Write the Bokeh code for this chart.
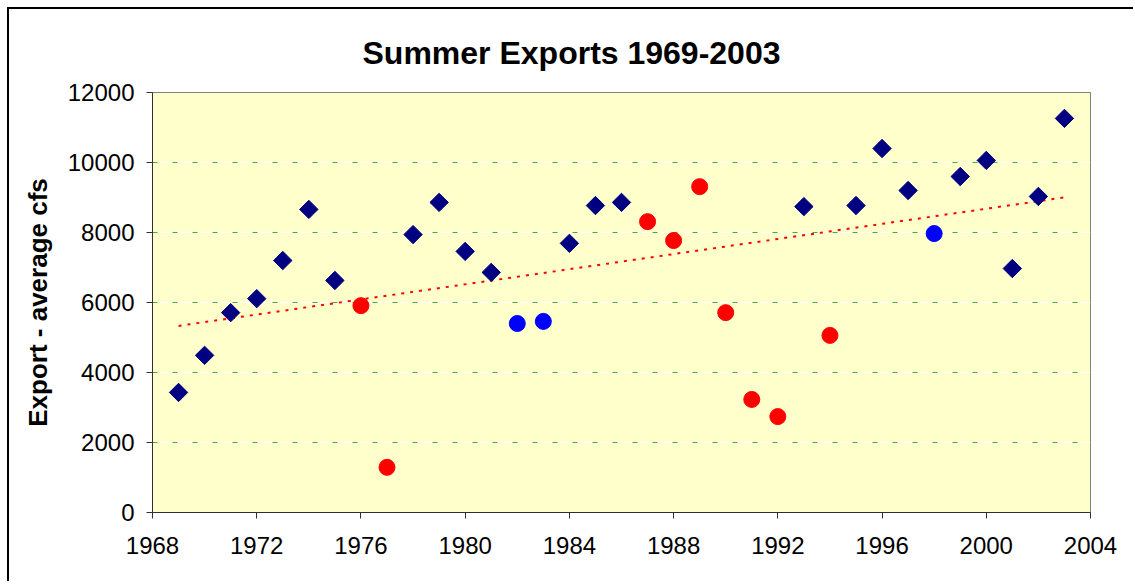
import numpy as np
from bokeh.plotting import figure
from bokeh.models import Range1d, FixedTicker, Grid
from bokeh.embed import file_html
from bokeh.resources import INLINE

# Data
normal_years = [1969, 1970, 1971, 1972, 1973, 1974, 1975, 1978, 1979, 1980, 1981,
                1984, 1985, 1986, 1993, 1995, 1996, 1997, 1999, 2000, 2001, 2002, 2003]
normal_vals = [3430, 4490, 5710, 6110, 7200, 8660, 6630, 7940, 8860, 7460, 6860,
               7690, 8770, 8860, 8740, 8770, 10400, 9200, 9600, 10060, 6970, 9030, 11260]

red_years = [1976, 1977, 1987, 1988, 1989, 1990, 1991, 1992, 1994]
red_vals = [5910, 1290, 8310, 7770, 9310, 5710, 3230, 2740, 5060]

blue_years = [1982, 1983, 1998]
blue_vals = [5400, 5460, 7970]

x_ticks = [1968, 1972, 1976, 1980, 1984, 1988, 1992, 1996, 2000, 2004]
y_ticks = [0, 2000, 4000, 6000, 8000, 10000, 12000]

title_text = "Summer Exports 1969-2003"
y_label = "Export - average cfs"

# Linear trend over all points
all_x = np.array(normal_years + red_years + blue_years, dtype=float)
all_y = np.array(normal_vals + red_vals + blue_vals, dtype=float)
slope, intercept = np.polyfit(all_x, all_y, 1)
trend_x = [all_x.min(), all_x.max()]
trend_y = [slope * t + intercept for t in trend_x]

FONT = "Liberation Sans"

p = figure(width=1126, height=574, output_backend="svg", toolbar_location=None,
           x_range=Range1d(1968, 2004), y_range=Range1d(0, 12000),
           min_border_left=143, min_border_top=83, min_border_right=45, min_border_bottom=71)
p.margin = (7, 0, 0, 7)
p.styles = {"border-left": "2px solid black", "border-top": "2px solid black"}

p.title.text = title_text
p.title.align = "left"
p.title.offset = 210
p.title.standoff = 44
p.title.text_font = FONT
p.title.text_font_size = "32px"
p.title.text_font_style = "bold"
p.title.text_color = "black"

p.background_fill_color = "#FFFFCC"
p.border_fill_color = "white"
p.outline_line_color = "#808080"
p.outline_line_width = 1

# grids: white solid under green dashed
p.xgrid.visible = False
green_grid = p.ygrid[0]
white_grid = Grid(dimension=1, ticker=FixedTicker(ticks=y_ticks[1:-1]),
                  grid_line_color="white", grid_line_width=1)
green_grid.ticker = FixedTicker(ticks=y_ticks[1:-1])
green_grid.grid_line_color = "#008000"
green_grid.grid_line_dash = "5 15"
green_grid.grid_line_width = 1
green_grid.grid_line_alpha = 0.7
centers = [r for r in p.center if r is not green_grid]
p.center = centers + [white_grid, green_grid]

for ax in (p.xaxis[0], p.yaxis[0]):
    ax.axis_line_color = "#303030"
    ax.major_tick_line_color = "#303030"
    ax.major_tick_out = 6
    ax.major_tick_in = 0
    ax.minor_tick_out = 0
    ax.minor_tick_in = 0
    ax.major_label_text_font = FONT
    ax.major_label_text_font_size = "24px"
    ax.major_label_text_color = "black"

p.xaxis.ticker = FixedTicker(ticks=x_ticks)
p.yaxis.ticker = FixedTicker(ticks=y_ticks)
p.xaxis.major_label_standoff = 18
p.yaxis.major_label_standoff = 12

p.yaxis.axis_label = y_label
p.yaxis.axis_label_text_font = FONT
p.yaxis.axis_label_text_font_size = "26px"
p.yaxis.axis_label_text_font_style = "bold"
p.yaxis.axis_label_text_color = "black"
p.yaxis.axis_label_standoff = 12

# trend line
p.line(trend_x, trend_y, line_color="red", line_width=2, line_dash="3 6")

# markers
p.scatter(normal_years, normal_vals, marker="square", size=13, angle=np.pi / 4,
          fill_color="#000080", line_color="#000080")
p.scatter(red_years, red_vals, marker="circle", size=16,
          fill_color="#FF0000", line_color="#FF0000")
p.scatter(blue_years, blue_vals, marker="circle", size=16,
          fill_color="#0000FF", line_color="#0000FF")

open("out.html", "w").write(file_html(p, INLINE))
